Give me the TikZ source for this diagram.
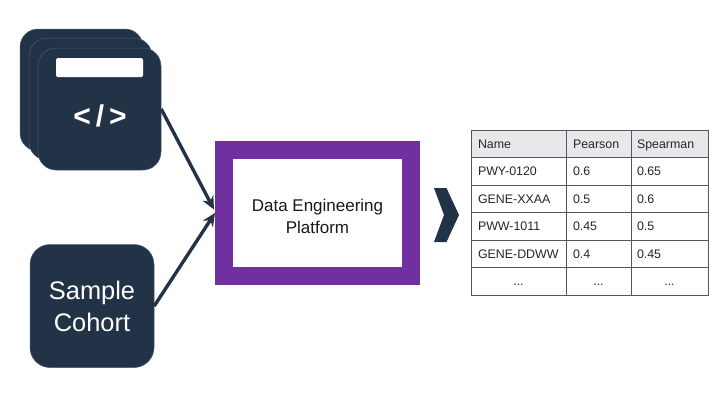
\documentclass[tikz,border=0pt]{standalone}
\usepackage{fontspec}
\setmainfont{Liberation Sans}
\usetikzlibrary{positioning,arrows.meta}
\definecolor{cardnavy}{HTML}{223347}
\definecolor{cardedge}{HTML}{4A5A6E}
\definecolor{platpurple}{HTML}{7030A0}
\definecolor{headgrey}{HTML}{E7E8EA}
\definecolor{gridgrey}{HTML}{4F5863}
\tikzset{
    every node/.style={font=\small},
    card/.style={rectangle,rounded corners=18pt,draw=cardedge,line width=0.5pt,fill=cardnavy,minimum width=123pt,minimum height=122pt,inner sep=0pt},
    platform/.style={rectangle,draw=platpurple,fill=white,line width=18pt,minimum width=187pt,minimum height=126pt},
    platlabel/.style={align=center,font=\fontsize{17}{22}\selectfont,text=black!90},
    flow/.style={draw=cardnavy,line width=3.4pt,-{Stealth[length=13pt,width=12pt]}},
    cell/.style={rectangle,draw=gridgrey,line width=0.7pt,minimum height=27.5pt,inner sep=0pt,text height=9pt,text depth=0pt,font=\fontsize{12.4}{14}\selectfont,text=black!85},
}
\begin{document}
\begin{tikzpicture}[x=1pt,y=-1pt]
\useasboundingbox (0,0) rectangle (720,405);
% stack of cards
\node[card] (cardback) at (81.5,90) {};
\node[card] (cardmid) at (90.5,99) {};
\node[card] (cardfront) at (99.5,109) {};
\node[rectangle,rounded corners=1.5pt,fill=white,minimum width=87pt,minimum height=19pt,inner sep=0pt] (cardbar) at (99.5,67.5) {};
\node[font=\fontsize{30}{30}\bfseries,text=white,inner sep=0pt] (cardcode) at (100,116) {<\hspace{5pt}/\hspace{5pt}>};
\node[card,rounded corners=20pt,minimum width=124pt,minimum height=123pt,align=center,text=white,font=\fontsize{25.4}{32}\selectfont] (cohort) at (92,306) {Sample\\Cohort};
% platform
\node[platform] (plat) at (317.5,213) {};
\node[platlabel] (platname) at (317.5,216) {Data Engineering\\Platform};
\coordinate (platin) at (214,209.5);
\draw[flow] (cardfront.east) -- (platin);
\draw[flow] (cohort.east) -- (plat.west);
% chevron
\fill[cardnavy] (434,188) -- (446.5,188) -- (459,215) -- (446.5,242) -- (434,242) -- (444,215) -- cycle;
% table
\foreach \rowy/\rowa/\rowb/\rowc [count=\r] in {143.75/Name/Pearson/Spearman,171.25/PWY-0120/0.6/0.65,198.75/GENE-XXAA/0.5/0.6,226.25/PWW-1011/0.45/0.5,253.75/GENE-DDWW/0.4/0.45}{
    \ifnum\r=1 \def\cellfill{headgrey}\else\def\cellfill{white}\fi
    \node[cell,fill=\cellfill,minimum width=95pt,text width=81pt,align=left] (a\r) at (518.5,\rowy) {\rowa};
    \node[cell,fill=\cellfill,minimum width=65pt,text width=51pt,align=left] (b\r) at (598.5,\rowy) {\rowb};
    \node[cell,fill=\cellfill,minimum width=77pt,text width=65pt,align=left] (c\r) at (669.5,\rowy) {\rowc};
}
\node[cell,minimum width=95pt] (a6) at (518.5,281.25) {...};
\node[cell,minimum width=65pt] (b6) at (598.5,281.25) {...};
\node[cell,minimum width=77pt] (c6) at (669.5,281.25) {...};
\end{tikzpicture}
\end{document}
